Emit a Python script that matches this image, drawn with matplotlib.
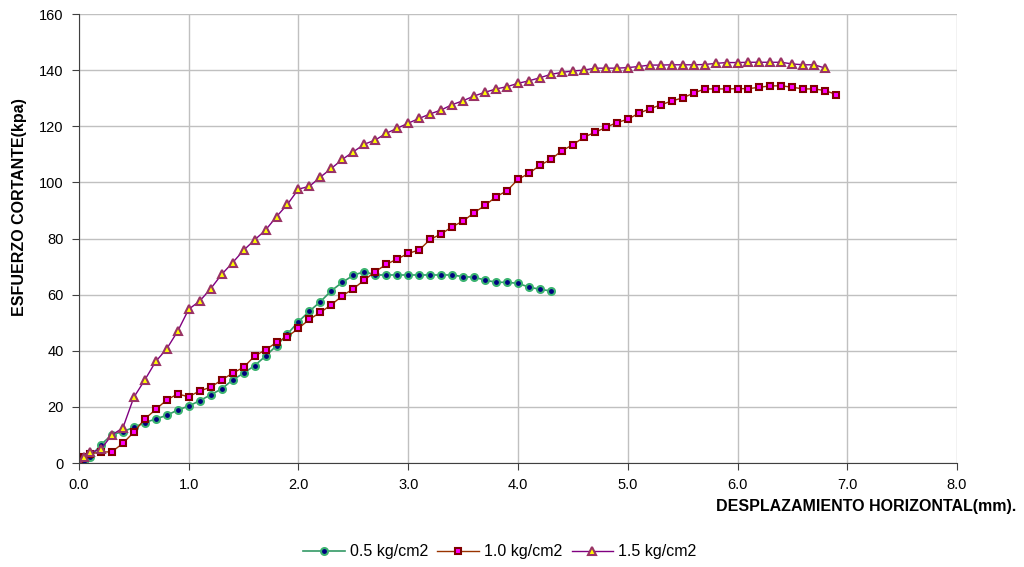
import numpy as np
import matplotlib
matplotlib.use("Agg")
import matplotlib.pyplot as plt

plt.rcParams['font.family'] = ['Liberation Sans', 'DejaVu Sans']

# Displacement (mm) shared by all three tests
desp = [0.0, 0.05, 0.1, 0.2, 0.3, 0.4, 0.5, 0.6, 0.7, 0.8, 0.9,
        1.0, 1.1, 1.2, 1.3, 1.4, 1.5, 1.6, 1.7, 1.8, 1.9,
        2.0, 2.1, 2.2, 2.3, 2.4, 2.5, 2.6, 2.7, 2.8, 2.9,
        3.0, 3.1, 3.2, 3.3, 3.4, 3.5, 3.6, 3.7, 3.8, 3.9,
        4.0, 4.1, 4.2, 4.3, 4.4, 4.5, 4.6, 4.7, 4.8, 4.9,
        5.0, 5.1, 5.2, 5.3, 5.4, 5.5, 5.6, 5.7, 5.8, 5.9,
        6.0, 6.1, 6.2, 6.3, 6.4, 6.5, 6.6, 6.7, 6.8, 6.9]

# Shear stress (kpa)
tau_05 = [0.0, 0.1, 2.0, 6.5, 10.1, 11.2, 12.7, 14.4, 15.7, 17.0, 18.9,
          20.3, 22.2, 24.3, 26.4, 29.6, 32.0, 34.7, 38.1, 41.8, 46.0,
          50.4, 54.1, 57.5, 61.4, 64.4, 66.9, 68.2, 67.0, 67.0, 67.0,
          67.0, 67.0, 67.0, 67.0, 67.0, 66.4, 66.2, 65.2, 64.4, 64.4,
          64.0, 62.7, 61.9, 61.3]

tau_10 = [0.0, 2.0, 3.3, 3.9, 4.0, 7.0, 11.0, 15.7, 19.1, 22.5, 24.6,
          23.6, 25.7, 27.0, 29.6, 32.0, 34.1, 38.1, 40.3, 43.0, 45.0,
          48.0, 51.2, 53.7, 56.4, 59.6, 62.1, 65.2, 68.2, 70.8, 72.7,
          74.7, 75.9, 79.7, 81.6, 84.2, 86.2, 89.2, 91.8, 94.9, 97.0,
          101.1, 103.2, 106.1, 108.2, 111.3, 113.4, 116.1, 117.8, 119.6, 121.3,
          122.5, 124.6, 126.2, 127.6, 129.0, 130.1, 131.8, 133.3, 133.3, 133.3,
          133.4, 133.4, 133.9, 134.4, 134.4, 133.9, 133.3, 133.3, 132.7, 131.3]

tau_15 = [0.0, 2.0, 3.8, 4.9, 10.0, 12.5, 23.4, 29.6, 36.2, 40.7, 47.0,
          54.8, 57.7, 62.1, 67.2, 71.4, 75.8, 79.5, 83.0, 87.8, 92.2,
          97.6, 98.6, 101.9, 105.0, 108.2, 110.9, 113.6, 115.1, 117.5, 119.3,
          121.1, 122.8, 124.4, 125.8, 127.7, 129.1, 130.8, 132.1, 133.3, 134.1,
          135.3, 136.2, 137.3, 138.5, 139.2, 139.7, 140.0, 140.7, 140.7, 140.7,
          140.9, 141.3, 141.8, 141.8, 141.9, 141.9, 141.9, 142.0, 142.4, 142.7,
          142.7, 142.8, 142.8, 142.8, 142.8, 142.2, 141.9, 141.9, 140.7]

labels = ['0.5 kg/cm2', '1.0 kg/cm2', '1.5 kg/cm2']

fig = plt.figure(figsize=(10.24, 5.67), dpi=100)
ax = fig.add_axes([0.0771, 0.1834, 0.8575, 0.7919])

ax.plot(desp[:len(tau_05)], tau_05, color='#339966', lw=1.2,
        marker='o', ms=5, mfc='#000080', mec='#3CB371', mew=1.5, label=labels[0])
ax.plot(desp[:len(tau_10)], tau_10, color='#993300', lw=1.0,
        marker='s', ms=5, mfc='#FF00FF', mec='#800000', mew=1.5, label=labels[1])
ax.plot(desp[:len(tau_15)], tau_15, color='#800080', lw=1.0,
        marker='^', ms=5.5, mfc='#FFFF00', mec='#993366', mew=1.5, label=labels[2])

ax.set_xlim(0, 8)
ax.set_ylim(0, 160)
ax.set_xticks(np.arange(0, 8.1, 1.0))
ax.set_xticklabels([f'{v:.1f}' for v in np.arange(0, 8.1, 1.0)])
ax.set_yticks(np.arange(0, 161, 20))
ax.grid(True, color='#c0c0c0', lw=1)
ax.set_axisbelow(True)
for s in ['top', 'right']:
    ax.spines[s].set_visible(False)
for s in ['left', 'bottom']:
    ax.spines[s].set_color('#404040')
ax.tick_params(direction='out', length=5, labelsize=10.5, color='#404040', pad=6)

fig.text(0.0195, 0.635, 'ESFUERZO CORTANTE(kpa)', rotation=90, ha='center', va='center',
         fontsize=11.5, fontweight='bold')
fig.text(0.992, 0.107, 'DESPLAZAMIENTO HORIZONTAL(mm).', ha='right', va='center',
         fontsize=11.5, fontweight='bold')

fig.legend(loc='center', bbox_to_anchor=(0.488, 0.027), ncol=3, frameon=False,
           fontsize=11.5, handlelength=2.6, columnspacing=0.6, handletextpad=0.3)

fig.savefig('out.png', dpi=100)
